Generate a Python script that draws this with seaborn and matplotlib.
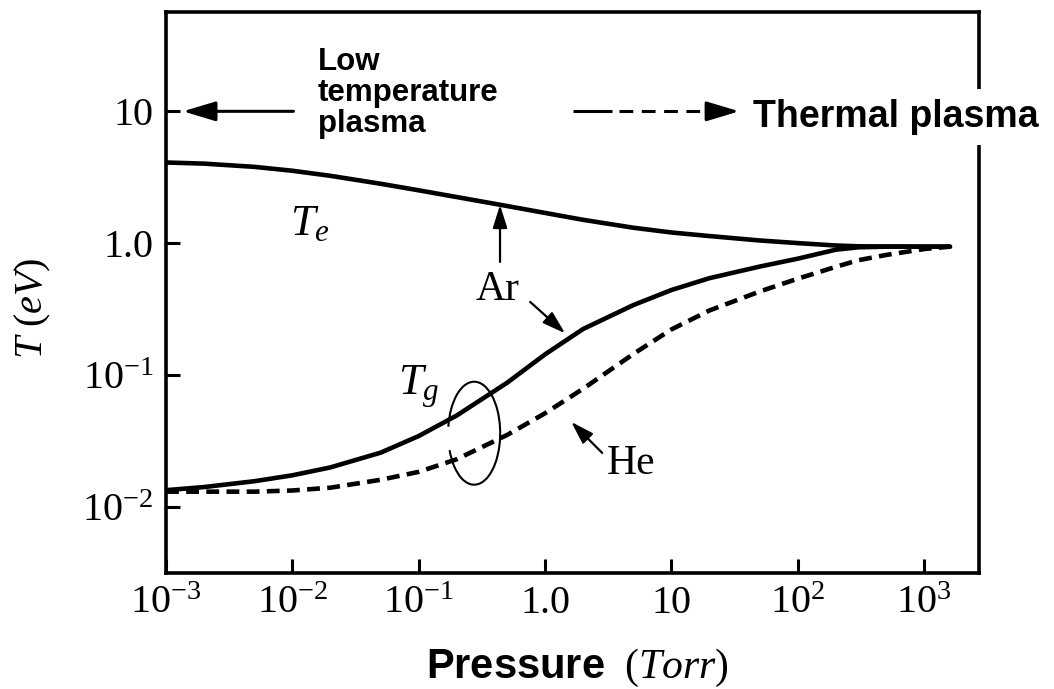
import matplotlib
matplotlib.use("Agg")
import matplotlib.pyplot as plt
from matplotlib.patches import Arc
import seaborn as sns
import pandas as pd

# ---- data ----
pressure = [0.001, 0.002, 0.005, 0.01, 0.02, 0.05, 0.1, 0.2, 0.5, 1, 2, 5,
            10, 20, 50, 100, 200, 300, 500, 1000, 1600]
te_ar = [4.09, 4.01, 3.79, 3.54, 3.24, 2.82, 2.515, 2.236, 1.912, 1.694,
         1.502, 1.308, 1.204, 1.131, 1.047, 1.0, 0.959, 0.946, 0.942, 0.940,
         0.940]
tg_ar = [0.01334, 0.01409, 0.01560, 0.01730, 0.01986, 0.0257, 0.03436,
         0.0492, 0.0871, 0.1432, 0.2230, 0.3388, 0.4406, 0.5420, 0.6637,
         0.7621, 0.8913, 0.9290, 0.9397, 0.9397, 0.9397]
tg_he = [0.0130, 0.0130, 0.0130, 0.01327, 0.01393, 0.0160, 0.01837, 0.02291,
         0.03499, 0.05117, 0.07852, 0.1442, 0.2213, 0.3083, 0.4295, 0.5370,
         0.6607, 0.7413, 0.8128, 0.9016, 0.9397]

xticks = [1e-3, 1e-2, 1e-1, 1, 10, 1e2, 1e3]
xtick_labels = [r'$10^{-3}$', r'$10^{-2}$', r'$10^{-1}$', '1.0', '10',
                r'$10^{2}$', r'$10^{3}$']
yticks = [1e-2, 1e-1, 1, 10]
ytick_labels = [r'$10^{-2}$', r'$10^{-1}$', '1.0', '10']

df = pd.DataFrame({"P": pressure, "Te": te_ar, "TgAr": tg_ar, "TgHe": tg_he})

# ---- style ----
sns.set_theme(style="white")
plt.rcParams['font.family'] = ['Liberation Serif', 'DejaVu Serif']
plt.rcParams['mathtext.fontset'] = 'custom'
plt.rcParams['mathtext.rm'] = 'Liberation Serif'
plt.rcParams['mathtext.it'] = 'Liberation Serif:italic'
plt.rcParams['mathtext.bf'] = 'Liberation Sans:bold'
plt.rcParams['text.color'] = 'black'
plt.rcParams['axes.labelcolor'] = 'black'
plt.rcParams['xtick.color'] = 'black'
plt.rcParams['ytick.color'] = 'black'

fig = plt.figure(figsize=(10.54, 6.89), dpi=100)
ax = fig.add_axes([0.1575, 0.1684, 0.9289 - 0.1575, 0.983 - 0.1684])
ax.set_xscale('log')
ax.set_yscale('log')

lw = 3.3
sns.lineplot(data=df, x="P", y="Te", ax=ax, color="black", lw=lw, estimator=None)
sns.lineplot(data=df, x="P", y="TgAr", ax=ax, color="black", lw=lw, estimator=None)
sns.lineplot(data=df, x="P", y="TgHe", ax=ax, color="black", lw=lw,
             estimator=None, linestyle=(0, (2.8, 1.6)))

ax.set_xlim(1e-3, 2.72e3)
ax.set_ylim(3.14e-3, 57)
ax.minorticks_off()
ax.set_xticks(xticks, labels=xtick_labels)
ax.set_yticks(yticks, labels=ytick_labels)
ax.tick_params(axis='both', which='major', direction='in', length=10, width=2.2,
               color='black', labelcolor='black', labelsize=29, bottom=True,
               left=True, top=False, right=False)
ax.tick_params(axis='x', pad=9)
ax.tick_params(axis='y', pad=9)
for s in ax.spines.values():
    s.set_visible(True)
    s.set_color('black')
    s.set_linewidth(2.6)

ax.set_xlabel(r'$\mathbf{Pressure}\ \ (\mathit{Torr})$', fontsize=30,
              color='black')
ax.xaxis.set_label_coords(0.506, -0.169)
ax.xaxis.label.set_verticalalignment('center')
ax.set_ylabel(r'$T\ (eV)$', fontsize=29, color='black')
ax.yaxis.set_label_coords(-0.164, 0.472)
ax.yaxis.label.set_verticalalignment('center')

# ---- annotations ----
big_head = dict(arrowstyle='-|>,head_length=1.0,head_width=0.3',
                mutation_scale=20, lw=2.2, color='black', shrinkA=0, shrinkB=0)
ax.annotate('', xy=(1.36e-3, 10), xytext=(0.0102, 10), arrowprops=big_head,
            annotation_clip=False)
ax.plot([1.67, 3.4], [10, 10], color='black', lw=2.2, solid_capstyle='butt')
ax.plot([3.86, 21.4], [10, 10], color='black', lw=2.2,
        linestyle=(0, (4.5, 2.8)))
ax.annotate('', xy=(34.4, 10), xytext=(21.0, 10), arrowprops=big_head)

small = dict(arrowstyle='-|>,head_length=0.7,head_width=0.22',
             mutation_scale=20, lw=1.6, color='black', shrinkA=0, shrinkB=0)
ax.annotate('', xy=(0.44, 1.95), xytext=(0.44, 0.72), arrowprops=small)
ax.annotate('', xy=(1.44, 0.207), xytext=(0.762, 0.358), arrowprops=small)
ax.annotate('', xy=(1.61, 0.044), xytext=(2.83, 0.0256), arrowprops=small)

ax.text(0.28, 0.371, 'Ar', fontsize=30, ha='left', va='baseline', color='black')
ax.text(3.1, 0.0177, 'He', fontsize=30, ha='left', va='baseline', color='black')
ax.text(9.6e-3, 1.156, r'$T_e$', fontsize=32, ha='left', va='baseline',
        color='black')
ax.text(0.0687, 0.0705, r'$T_g$', fontsize=32, ha='left', va='baseline',
        color='black')

ax.add_patch(Arc((0.379, 0.249), 0.064, 0.1835, theta1=-135, theta2=160,
                 transform=ax.transAxes, color='black', lw=1.5))

fig.text(0.3017, 0.932, 'Low\ntemperature\nplasma', fontsize=22.5,
         fontweight='bold', family=['Liberation Sans', 'DejaVu Sans'],
         ha='left', va='top', linespacing=1.05, color='black')
fig.text(0.7144, 0.8157, 'Thermal plasma', fontsize=27, fontweight='bold',
         family=['Liberation Sans', 'DejaVu Sans'], ha='left', va='baseline',
         color='black', bbox=dict(facecolor='white', edgecolor='none', pad=7))

fig.savefig('out.png', dpi=100, facecolor='white')
